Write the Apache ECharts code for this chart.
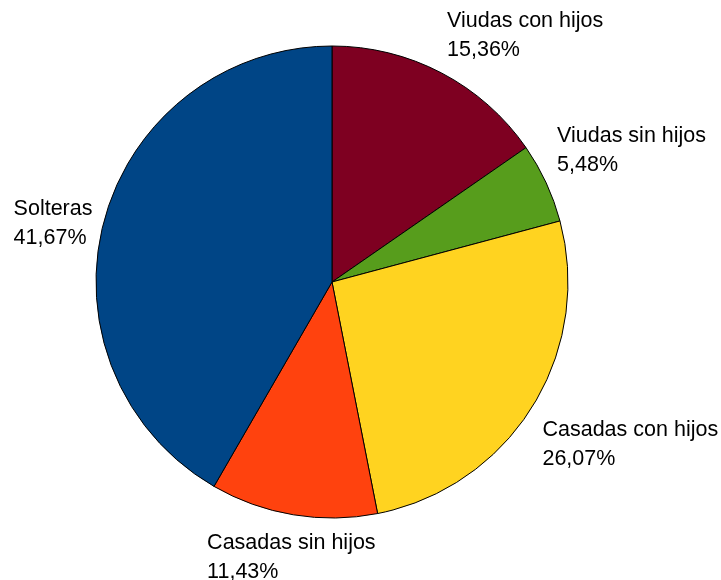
<!DOCTYPE html>
<html>
<head>
<meta charset="utf-8">
<script src="https://cdn.jsdelivr.net/npm/echarts@6/dist/echarts.min.js"></script>
<style>
  html, body { margin: 0; padding: 0; background: #ffffff; }
  #chart { width: 721px; height: 580px; }
</style>
</head>
<body>
<div id="chart"></div>
<script>
// Data
var categories = ['Viudas con hijos', 'Viudas sin hijos', 'Casadas con hijos', 'Casadas sin hijos', 'Solteras'];
var values = [15.36, 5.48, 26.07, 11.43, 41.67];
var colors = ['#7e0021', '#579d1c', '#ffd320', '#ff420e', '#004586'];

// Layout
var CX = 332, CY = 282, R = 236, LABEL_GAP = 12;

var total = values.reduce(function (a, b) { return a + b; }, 0);
function midDir(i) {
  var before = 0;
  for (var k = 0; k < i; k++) before += values[k];
  var frac = (before + values[i] / 2) / total;
  var ang = frac * 2 * Math.PI; // clockwise from top
  return { dx: Math.sin(ang), dy: -Math.cos(ang) };
}

var chart = echarts.init(document.getElementById('chart'), null, { renderer: 'canvas' });
var data = categories.map(function (c, i) {
  return { name: c, value: values[i], itemStyle: { color: colors[i] } };
});

chart.setOption({
  animation: false,
  backgroundColor: '#ffffff',
  series: [{
    type: 'pie',
    center: [CX, CY],
    radius: [0, R],
    startAngle: 90,
    clockwise: true,
    avoidLabelOverlap: false,
    data: data,
    itemStyle: { borderColor: '#000000', borderWidth: 1 },
    emphasis: { disabled: true },
    label: {
      show: true,
      position: 'outside',
      fontFamily: 'Liberation Sans, Arial, sans-serif',
      fontSize: 21.5,
      lineHeight: 29,
      color: '#000000',
      formatter: function (p) {
        return p.name + '\n' + p.value.toFixed(2).replace('.', ',') + '%';
      }
    },
    labelLine: { show: false },
    labelLayout: function (params) {
      var d = midDir(params.dataIndex);
      var px = CX + d.dx * (R + LABEL_GAP);
      var py = CY + d.dy * (R + LABEL_GAP) + 2;
      var w = params.labelRect.width, h = params.labelRect.height;
      var x, y;
      if (d.dx > 0.3) x = px; else if (d.dx < -0.3) x = px - w; else x = px - w / 2;
      if (d.dy < -0.3) y = py - h; else if (d.dy > 0.3) y = py; else y = py - h / 2 + 4;
      return { x: x, y: y, align: 'left', verticalAlign: 'top' };
    }
  }]
});
</script>
</body>
</html>
